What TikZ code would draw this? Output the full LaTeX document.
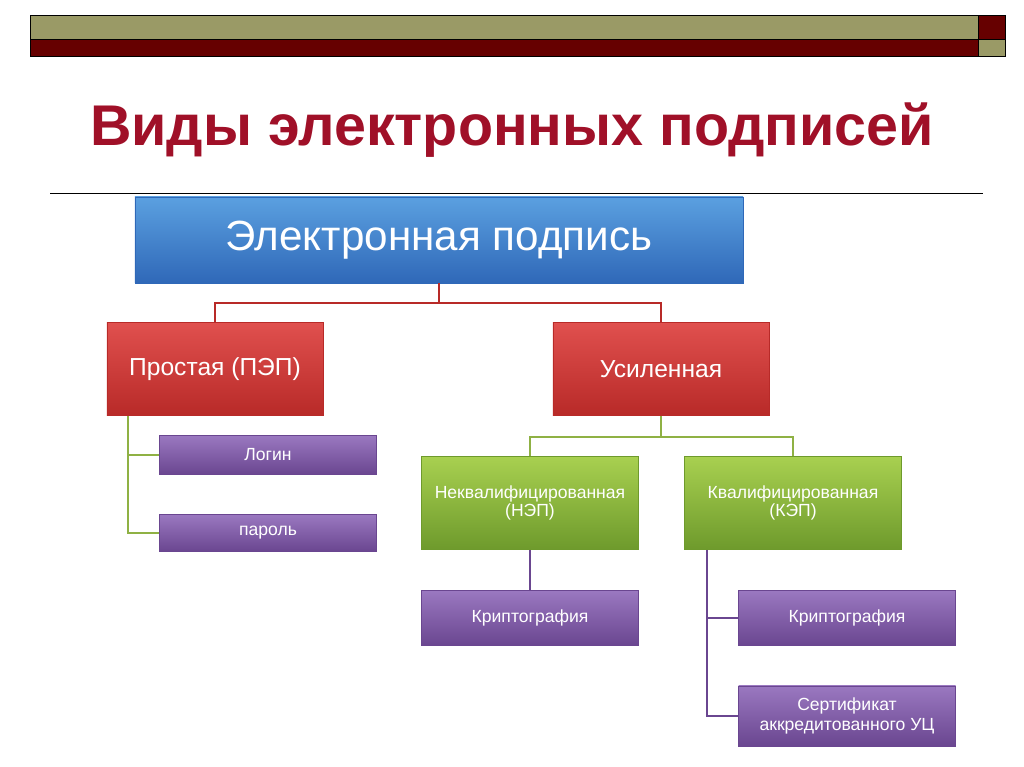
\documentclass[tikz,border=0pt]{standalone}
\usepackage{fontspec}
\setmainfont{Liberation Sans}
\usetikzlibrary{positioning}
\definecolor{olivebar}{HTML}{9A9A66}
\definecolor{darkbar}{HTML}{660000}
\definecolor{titlered}{HTML}{A01028}
\definecolor{bluetop}{HTML}{5BA0E0}
\definecolor{bluebot}{HTML}{2F68B8}
\definecolor{redtop}{HTML}{E0504E}
\definecolor{redbot}{HTML}{B82A28}
\definecolor{greentop}{HTML}{A8D050}
\definecolor{greenbot}{HTML}{6E9A2C}
\definecolor{purptop}{HTML}{9A78C0}
\definecolor{purpbot}{HTML}{6A4690}
\begin{document}
\begin{tikzpicture}[x=0.03cm,y=-0.03cm,semithick]
\tikzset{
	box/.style={rectangle,inner sep=2,text=white,align=center,draw=#1,line width=0.6pt},
	blue node/.style={box=bluebot,top color=bluetop,bottom color=bluebot,minimum width=18.24cm,minimum height=2.58cm,font=\fontsize{36}{40}\selectfont},
	red node/.style={box=redbot,top color=redtop,bottom color=redbot,minimum width=6.48cm,minimum height=2.79cm,font=\fontsize{21}{25}\selectfont},
	green node/.style={box=greenbot,top color=greentop,bottom color=greenbot,minimum width=6.51cm,minimum height=2.79cm,font=\fontsize{15}{16}\selectfont},
	purple node/.style={box=purpbot,top color=purptop,bottom color=purpbot,minimum width=6.51cm,font=\fontsize{15}{17}\selectfont},
	red link/.style={draw=redbot,line width=2.2pt},
	green link/.style={draw=greentop!85!black,line width=2.2pt},
	purple link/.style={draw=purpbot,line width=2.2pt}
}
\useasboundingbox (0,0) rectangle (1024,767);
\fill[white] (0,0) rectangle (1024,767);
% top bar
\filldraw[fill=olivebar,draw=black] (30,15) rectangle (978,39);
\filldraw[fill=darkbar,draw=black] (30,39) rectangle (978,56);
\filldraw[fill=darkbar,draw=black] (978,15) rectangle (1005,39);
\filldraw[fill=olivebar,draw=black] (978,39) rectangle (1005,56);
\node[text=titlered,font=\bfseries\fontsize{49}{56}\selectfont] (title) at (512,130) {Виды электронных подписей};
\draw[black,thin] (50,193) -- (983,193);

% links first, boxes on top
\coordinate (ep hub) at (439,303);
\coordinate (ues hub) at (661,437);
\coordinate (pep rail) at (128,416);
\coordinate (kep rail) at (707,550);

      \node[blue node] (ep) at (439,240) {Электронная подпись};
      \node[red node] (pep) at (215,369) {Простая (ПЭП)};
      \node[red node] (ues) at (661,369) {Усиленная};
      \node[purple node,minimum height=1.17cm] (login) at (268,455) {Логин};
      \node[purple node,minimum height=1.11cm] (pass) at (268,533) {пароль};
      \node[green node] (nep) at (530,503) {Неквалифицированная\\(НЭП)};
      \node[green node] (kep) at (793,503) {Квалифицированная\\(КЭП)};
      \node[purple node,minimum height=1.65cm] (kr1) at (530,618) {Криптография};
      \node[purple node,minimum height=1.65cm] (kr2) at (847,618) {Криптография};
      \node[purple node,minimum height=1.8cm] (cert) at (847,716) {Сертификат\\аккредитованного УЦ};

\path[red link] (ep.south) -- (ep hub) -| (pep.north)
                (ep hub) -| (ues.north);
\path[green link] (ues.south) -- (ues hub) -| (nep.north)
                  (ues hub) -| (kep.north)
                  (pep rail) |- (pass.west)
                  (pep rail) |- (login.west);
\path[purple link] (nep.south) -- (kr1.north)
                   (kep rail) |- (cert.west)
                   (kep rail) |- (kr2.west);
\end{tikzpicture}
\end{document}
